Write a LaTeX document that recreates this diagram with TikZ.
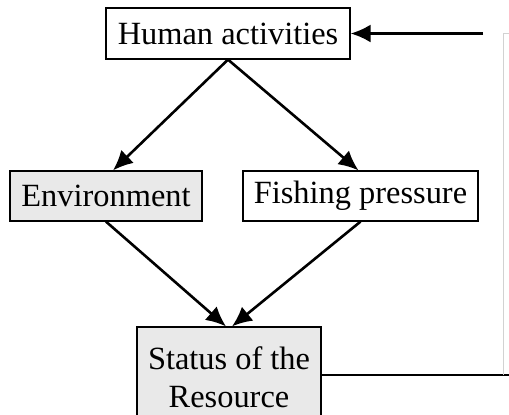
\documentclass[tikz,border=0pt]{standalone}
\usepackage{fontspec}
\setmainfont{Liberation Serif}
\usepackage{tikz}
\usetikzlibrary{arrows.meta}

\begin{document}
\begin{tikzpicture} [x=0.5pt,y=-0.5pt,
    box/.style={draw,line width=0.6pt,inner sep=0pt,font=\fontsize{16.2}{19}\selectfont},
    greybox/.style={box,fill=gray!17},
    arr/.style={-{Latex[length=10pt,width=9pt]},line width=1.3pt}]
                      \clip (0,0) rectangle (509,414); % page frame
                      \node[box,minimum width=122pt,minimum height=25.5pt] (hum) at (228,33.5) {Human activities};
                      \node[greybox,minimum width=96pt,minimum height=25pt] (env) at (106,196) {Environment};
                      \node[box,minimum width=117.5pt,minimum height=25pt] (fish) at (360.5,196) {Fishing pressure};
                      \node[greybox,minimum width=92pt,minimum height=50pt,align=center] (stat) at (229,377) {Status of the\\Resource};
                      \draw[arr] (hum.south) -- ([xshift=3.5pt]env.north) ;
                      \draw[arr] (hum.south) -- ([xshift=-1pt]fish.north) ;
                      \draw[arr] (env.south) -- ([xshift=-1.5pt]stat.north) ;
                      \draw[arr] (fish.south) -- ([xshift=1.5pt]stat.north) ;
    \coordinate (fbTop) at (483,33.5);
    \coordinate (fbEdge) at (509,33.5);
    \coordinate (fbLow) at (509,375);
    \coordinate (fbCorner) at (503,375);
                      \draw[line width=1.3pt] (stat.east |- fbLow) -- (fbLow) ; % feedback out
                      \draw[gray!35,line width=0.4pt] (fbCorner) -- (fbCorner |- fbTop) -- (fbEdge) ; % faint return
                      \draw[arr] (fbTop) -- (hum.east) ; % feedback in
\end{tikzpicture}
\end{document}
